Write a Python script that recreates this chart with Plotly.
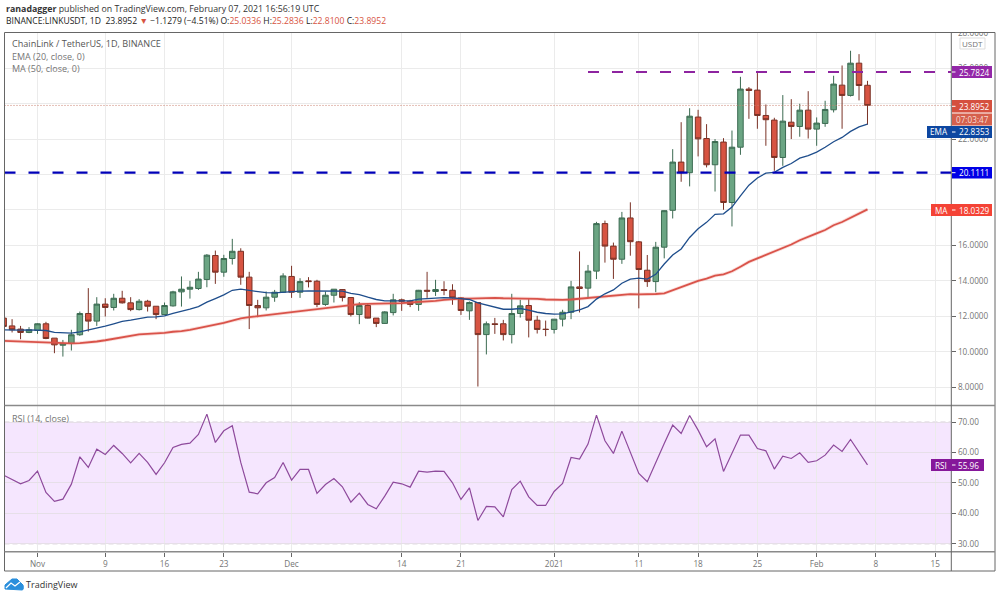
import pandas as pd
import plotly.graph_objects as go
from plotly.subplots import make_subplots

W = 1000
H = 598

# daily values, 2020-10-28 .. 2021-02-07
opens = [11.90,11.46,11.28,11.09,
	11.20,11.58,10.77,10.37,10.47,10.96,12.16,11.73,12.69,12.50,13.02,12.76,12.38,12.85,12.57,12.10,12.59,13.38,13.53,13.57,14.08,15.43,14.49,15.26,15.67,14.21,12.61,12.48,13.08,13.36,
	14.25,13.36,14.00,13.98,12.67,13.19,13.51,13.06,12.10,12.61,11.90,11.60,12.21,12.93,12.85,12.67,13.47,13.40,13.51,13.47,13.04,12.31,12.78,10.97,11.58,11.58,10.97,12.16,12.61,11.78,11.27,
	11.26,11.84,12.23,13.66,13.59,14.55,17.23,15.96,15.22,17.55,16.20,14.60,13.96,15.90,17.98,20.70,20.10,23.24,22.03,20.55,21.83,18.42,21.54,24.82,24.76,23.33,23.07,20.96,22.95,22.71,23.63,
	22.56,22.88,23.65,25.04,24.46,26.28,25.0336]
highs = [11.99,11.84,11.46,11.39,
	11.61,11.69,10.77,10.67,11.24,12.27,13.59,13.08,13.02,13.27,13.44,13.08,12.97,12.93,12.57,12.78,13.44,14.25,14.00,14.51,15.51,15.71,15.47,16.37,15.84,14.51,12.93,13.40,13.49,14.43,
	14.85,14.15,14.21,14.06,13.40,13.53,13.53,13.06,12.80,12.69,11.90,12.29,13.27,13.00,12.93,13.49,14.51,14.06,13.98,13.81,13.08,12.84,12.78,11.71,11.91,11.80,13.27,12.93,12.97,12.03,11.76,
	11.84,12.37,14.00,15.66,14.90,17.33,17.40,16.16,17.89,18.43,16.25,15.46,16.20,17.98,21.43,22.95,23.74,23.65,22.84,22.00,22.05,22.48,25.51,24.93,25.72,23.95,23.20,24.48,24.25,23.99,24.70,
	23.22,24.16,25.57,26.15,26.98,26.79,25.2836]
lows = [11.33,11.09,10.71,11.05,
	11.01,10.71,9.92,9.73,10.07,10.90,11.14,11.46,11.99,12.33,12.72,12.29,12.33,12.27,11.84,12.07,12.55,12.55,13.00,13.49,13.64,13.83,14.23,14.92,13.78,11.28,11.95,12.33,12.82,13.34,
	13.04,13.04,13.63,12.52,12.59,12.78,12.84,11.99,11.56,11.88,11.39,11.58,12.05,12.31,12.52,12.31,13.04,13.15,13.19,12.65,12.08,11.80,8.04,9.85,11.01,10.64,10.47,11.93,10.81,11.03,10.88,
	11.03,11.43,11.84,12.22,13.08,14.10,15.03,14.11,14.96,15.42,12.45,13.66,13.36,15.27,17.52,19.59,19.33,21.02,20.40,19.04,18.01,17.07,21.11,23.14,22.58,21.62,20.21,20.49,22.00,22.13,22.03,
	21.62,22.69,23.50,22.58,24.40,24.18,22.81]
closes = [11.43,11.24,11.09,11.24,
	11.58,10.75,10.39,10.47,10.96,12.16,11.73,12.69,12.50,13.02,12.76,12.38,12.85,12.57,12.10,12.61,13.38,13.53,13.64,14.10,15.45,14.49,15.26,15.67,14.21,12.61,12.48,13.08,13.36,14.28,
	13.36,13.96,13.96,12.67,13.19,13.53,13.06,12.10,12.61,11.90,11.60,12.25,12.93,12.85,12.67,13.47,13.42,13.51,13.46,13.04,12.33,12.78,10.97,11.58,11.54,10.97,12.16,12.59,11.78,11.26,11.26,
	11.84,12.23,13.66,13.57,14.55,17.23,15.96,15.22,17.55,16.21,14.64,13.96,15.90,17.96,20.70,20.10,23.29,22.01,20.55,21.86,18.42,21.54,24.82,24.74,23.33,23.09,20.96,23.01,22.71,23.63,22.56,
	22.90,23.67,25.10,24.46,26.28,25.02,23.8952]
ema20 = [11.24,11.22,11.22,11.24,
	11.22,11.20,11.09,11.05,11.05,11.12,11.22,11.33,11.45,11.58,11.71,11.78,11.88,11.95,11.97,12.03,12.16,12.27,12.40,12.55,12.80,13.00,13.21,13.47,13.53,13.46,13.38,13.34,13.32,13.36,
	13.42,13.42,13.44,13.44,13.40,13.44,13.42,13.29,13.23,13.08,12.95,12.87,12.87,12.91,12.87,12.97,13.00,13.04,13.06,13.04,12.99,12.95,12.76,12.63,12.50,12.40,12.40,12.44,12.35,12.23,12.16,
	12.12,12.14,12.25,12.37,12.55,12.97,13.27,13.49,13.87,14.10,14.15,14.10,14.37,14.95,15.46,15.80,16.45,16.94,17.30,17.75,17.78,18.16,18.80,19.40,19.80,20.08,20.12,20.40,20.62,20.92,21.07,
	21.26,21.54,21.85,22.09,22.43,22.69,22.8353]
ma50 = [10.62,10.60,10.58,10.54,
	10.52,10.49,10.47,10.47,10.47,10.49,10.52,10.58,10.65,10.73,10.82,10.92,10.98,11.01,11.03,11.07,11.13,11.16,11.24,11.33,11.43,11.52,11.63,11.76,11.88,11.95,12.01,12.07,12.10,12.16,
	12.22,12.27,12.35,12.40,12.46,12.55,12.61,12.67,12.69,12.70,12.70,12.70,12.72,12.74,12.78,12.80,12.84,12.87,12.93,12.97,13.00,13.00,13.02,13.02,13.04,13.02,13.02,13.02,13.00,12.99,12.95,
	12.93,12.93,12.95,12.99,13.02,13.10,13.14,13.17,13.21,13.25,13.24,13.24,13.26,13.30,13.47,13.64,13.85,14.00,14.13,14.30,14.37,14.54,14.80,15.07,15.27,15.46,15.63,15.82,16.05,16.29,16.50,
	16.68,16.87,17.14,17.32,17.57,17.81,18.0329]
rsi14 = [52.57,51.15,49.72,50.82,
	53.89,46.87,43.92,44.68,49.61,58.60,55.10,61.12,59.37,62.33,59.70,56.63,59.70,56.74,52.80,56.63,61.67,62.66,63.10,65.94,72.63,63.31,67.15,68.80,56.74,46.98,46.44,50.05,51.81,56.74,
	50.93,54.44,54.44,46.55,49.50,51.48,48.74,43.70,46.66,42.93,41.50,45.67,50.27,49.72,48.63,53.89,53.56,53.89,53.78,50.05,44.57,48.41,37.67,42.27,42.16,38.87,47.86,50.60,45.45,42.60,42.60,
	47.20,49.83,58.38,57.83,62.77,72.30,63.86,59.70,67.04,60.03,53.12,50.38,56.96,62.99,69.01,66.27,72.19,67.37,61.89,64.52,53.78,60.03,65.73,65.73,61.34,60.57,54.55,58.82,58.05,59.92,56.74,
	57.29,59.15,62.44,60.36,64.30,60.03,55.96]

tick_dates = ["2020-11-01","2020-11-09","2020-11-16","2020-11-23","2020-12-01","2020-12-14","2020-12-21",
	"2021-01-01","2021-01-11","2021-01-18","2021-01-25","2021-02-01","2021-02-08","2021-02-15"]
tick_text = ["Nov","9","16","23","Dec","14","21","2021","11","18","25","Feb","8","15"]
price_ticks = [8,10,12,14,16,18,20,22,24,26,28]
# 18, 20 and 24 sit fully under the price tags
price_text = ["8.0000","10.0000","12.0000","14.0000","16.0000","","","22.0000","","26.0000","28.0000"]
rsi_ticks = [30,40,50,60,70]

GREY = "#757575"
FONT = "Open Sans"
TICK = 8.2
dates = pd.date_range("2020-10-28", periods=len(closes), freq="D")


def px(x):
	return x / W


def py(y):
	return 1 - y / H


def rect(x0, y0, x1, y1, fill, line=None):
	return dict(type="rect", xref="paper", yref="paper", x0=px(x0), x1=px(x1), y0=py(y0), y1=py(y1),
		fillcolor=fill, line=dict(width=1 if line else 0, color=line or fill), layer="above")


def hline(x0, x1, y, color, width=1):
	return dict(type="line", xref="paper", yref="paper", x0=px(x0), x1=px(x1), y0=py(y), y1=py(y),
		line=dict(color=color, width=width), layer="above")


def text(x, y, s, color=GREY, size=8.8, anchor="left"):
	return dict(xref="paper", yref="paper", x=px(x), y=py(y), text=s, showarrow=False, xanchor=anchor, yanchor="middle",
		font=dict(family=FONT, size=size, color=color), align="left", borderpad=0)


fig = make_subplots(rows=2, cols=1, shared_xaxes=True, vertical_spacing=0)

fig.add_trace(go.Candlestick(x=dates, open=opens, high=highs, low=lows, close=closes,
	increasing=dict(fillcolor="#6ba583", line=dict(color="#3c6b52", width=1)),
	decreasing=dict(fillcolor="#d75442", line=dict(color="#7a3226", width=1)),
	whiskerwidth=0, name="OHLC"), row=1, col=1)
fig.add_trace(go.Scatter(x=dates, y=ma50, mode="lines", line=dict(color="rgba(229,83,72,0.2)", width=3.5), name="MA glow"), row=1, col=1)
fig.add_trace(go.Scatter(x=dates, y=ma50, mode="lines", line=dict(color="#d9534a", width=1.8), name="MA"), row=1, col=1)
fig.add_trace(go.Scatter(x=dates, y=ema20, mode="lines", line=dict(color="#1f4e8c", width=1.3), name="EMA"), row=1, col=1)
fig.add_trace(go.Scatter(x=dates, y=rsi14, mode="lines", line=dict(color="#8e4a9c", width=1.2), name="RSI"), row=2, col=1)

x_start = "2020-10-28 02:30"
x_end = "2021-02-16 21:30"

axis_style = dict(range=[x_start, x_end], tickmode="array", tickvals=tick_dates, ticktext=tick_text, showgrid=True,
	gridcolor="#ebebeb", gridwidth=1, zeroline=False, showline=False)
fig.update_xaxes(domain=[px(4.5), px(951.3)], **axis_style)
fig.update_xaxes(rangeslider_visible=False, showticklabels=False, ticks="", row=1, col=1)
fig.update_xaxes(ticks="outside", ticklen=4, tickcolor="#666666", tickfont=dict(family=FONT, size=TICK, color=GREY), row=2, col=1)
fig.update_yaxes(domain=[py(405.5), py(32.5)], range=[6.97, 28.01], side="right", tickmode="array", tickvals=price_ticks, ticktext=price_text,
	ticks="outside", ticklen=4, tickcolor="#666666", tickfont=dict(family=FONT, size=TICK, color=GREY),
	showgrid=True, gridcolor="#ebebeb", zeroline=False, showline=False, row=1, col=1)
fig.update_yaxes(domain=[py(551.7), py(405.7)], range=[27.4, 75.4], side="right", tickmode="array", tickvals=rsi_ticks, tickformat=".2f",
	ticks="outside", ticklen=4, tickcolor="#666666", tickfont=dict(family=FONT, size=TICK, color=GREY),
	showgrid=True, gridcolor="#e6dfe8", zeroline=False, showline=False, row=2, col=1)

shapes = [
	# RSI band
	dict(type="rect", xref="x2", yref="y2", x0=x_start, x1=x_end, y0=30, y1=70, fillcolor="rgba(184,77,248,0.14)", line=dict(width=0), layer="below"),
	dict(type="line", xref="x2", yref="y2", x0=x_start, x1=x_end, y0=70, y1=70, line=dict(color="#c8bccb", width=1, dash="5px,3px"), layer="below"),
	dict(type="line", xref="x2", yref="y2", x0=x_start, x1=x_end, y0=30, y1=30, line=dict(color="#c8bccb", width=1, dash="5px,3px"), layer="below"),
	# last price and levels
	dict(type="line", xref="x", yref="y", x0=x_start, x1=x_end, y0=closes[-1], y1=closes[-1], line=dict(color="#c9806f", width=1, dash="1px,2px")),
	dict(type="line", xref="x", yref="y", x0=x_start, x1=x_end, y0=20.1111, y1=20.1111, line=dict(color="#0000b8", width=2.2, dash="11px,13px")),
	dict(type="line", xref="x", yref="y", x0="2021-01-05", x1=x_end, y0=25.7824, y1=25.7824, line=dict(color="#8e24a0", width=2.2, dash="11px,13px")),
	# frame
	rect(952, 20, 999, 32, "white"),
	rect(4.5, 32.5, 995, 571, "rgba(0,0,0,0)", "#666666"),
	hline(4.5, 995, 405.6, "#8a8a8a", 1.5),
	hline(4.5, 995, 551.7, "#8a8a8a", 1.5),
	dict(type="line", xref="paper", yref="paper", x0=px(951.3), x1=px(951.3), y0=py(32.5), y1=py(571), line=dict(color="#666666", width=1), layer="above"),
	# price labels
	rect(952, 66, 992, 78, "#9327a8"),
	rect(952, 100, 992, 112.5, "#d5503f"),
	rect(952, 113.5, 992, 125.5, "#d5604d"),
	rect(927, 126, 992, 138, "#0d47a1"),
	rect(952, 167, 992, 178.5, "#0000e6"),
	rect(931, 204, 992, 216, "#f44336"),
	rect(931, 459, 984, 471, "#86189a"),
	hline(952, 955.5, 72, "white"),
	hline(952, 955.5, 106.3, "white"),
	hline(952, 955.5, 132, "white"),
	hline(952, 955.5, 172.7, "white"),
	hline(952, 955.5, 210, "white"),
	hline(952, 955.5, 465, "white"),
	# USDT tag
	dict(type="rect", xref="paper", yref="paper", x0=px(960), x1=px(985), y0=py(38), y1=py(49), fillcolor="white", line=dict(color="#dddddd", width=1), layer="above"),
	# logo
	dict(type="path", xref="paper", yref="paper", layer="above", fillcolor="#2a8fdc", line=dict(color="#2a8fdc", width=1),
		path="M %f,%f L %f,%f L %f,%f L %f,%f L %f,%f Q %f,%f %f,%f Z" % (px(5), py(589), px(5), py(585), px(12), py(579), px(17), py(579), px(23), py(585), px(24), py(590), px(22), py(590))),
	dict(type="path", xref="paper", yref="paper", layer="above", line=dict(color="white", width=1.3),
		path="M %f,%f L %f,%f L %f,%f L %f,%f" % (px(6), py(588), px(11), py(583), px(15), py(586), px(20), py(582))),
]

annotations = [
	text(5, 9, "<b>ranadagger</b> published on TradingView.com, February 07, 2021 16:56:19 UTC", "#333333", 8.8),
	text(5, 21, "BINANCE:LINKUSDT, 1D&nbsp; 23.8952 <span style='color:#d75442'>▼</span> −1.1279 (−4.51%) O:<span style='color:#d75442'>25.0336</span> H:<span style='color:#d75442'>25.2836</span> L:<span style='color:#d75442'>22.8100</span> C:<span style='color:#d75442'>23.8952</span>", "#222222", 8.6),
	text(11, 44, "ChainLink / TetherUS, 1D, BINANCE", "#555555", 9.1),
	text(11, 56.5, "EMA (20, close, 0)", GREY, 9),
	text(11, 68.5, "MA (50, close, 0)", GREY, 9),
	text(11, 418, "RSI (14, close)", GREY, 9),
	text(972.5, 43.5, "USDT", GREY, 8, "center"),
	text(974, 72, "25.7824", "white", TICK, "center"),
	text(974, 106.3, "23.8952", "white", TICK, "center"),
	text(972, 119.5, "07:03:47", "#f6dcd6", TICK, "center"),
	text(939, 132, "EMA", "white", TICK, "center"),
	text(974, 132, "22.8353", "white", TICK, "center"),
	text(974, 172.7, "20.1111", "white", TICK, "center"),
	text(941, 210, "MA", "white", TICK, "center"),
	text(974, 210, "18.0329", "white", TICK, "center"),
	text(941, 465, "RSI", "white", TICK, "center"),
	text(968, 465, "55.96", "white", TICK, "center"),
	text(25, 584.5, "TradingView", "#333333", 9),
]

fig.update_layout(width=W, height=H, margin=dict(l=0, r=0, t=0, b=0, autoexpand=False), paper_bgcolor="white", plot_bgcolor="white",
	showlegend=False, boxgap=0.07, shapes=shapes, annotations=annotations, font=dict(family=FONT))

fig.write_html("out.html", config=dict(displayModeBar=False), post_script="document.body.style.margin='0';")
